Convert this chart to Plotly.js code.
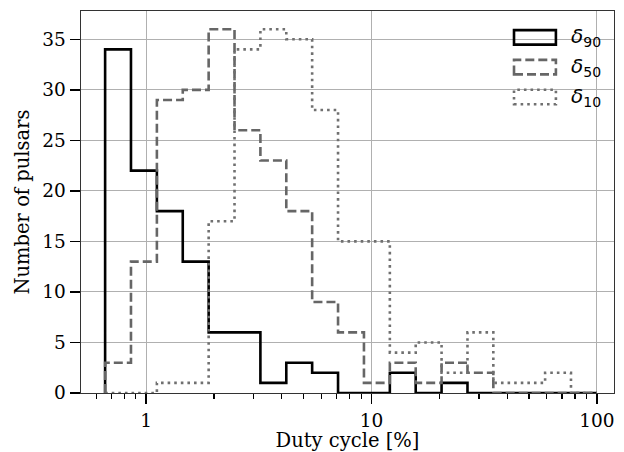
<!DOCTYPE html>
<html>
<head>
<meta charset="utf-8">
<script src="https://cdn.plot.ly/plotly-3.0.1.min.js"></script>
<style>html,body{margin:0;padding:0;background:#fff;}#chart{width:624px;height:452px;}</style>
</head>
<body>
<div id="chart"></div>
<script>
// Logarithmic bin edges (duty cycle, %)
const binEdges = [0.6577, 0.8565, 1.1161, 1.4538, 1.894, 2.467, 3.214, 4.187, 5.453, 7.104,
                  9.257, 12.06, 15.71, 20.46, 26.66, 34.72, 45.24, 58.93, 76.76, 100.0];
// Counts per bin
const delta90 = [34, 22, 18, 13, 6, 6, 1, 3, 2, 0, 0, 2, 0, 1, 0, 0, 0, 0, 0];
const delta50 = [3, 13, 29, 30, 36, 26, 23, 18, 9, 6, 1, 3, 1, 3, 2, 0, 0, 0, 0];
const delta10 = [0, 0, 1, 1, 17, 34, 36, 35, 28, 15, 15, 4, 5, 2, 6, 1, 1, 2, 0];
const seriesNames = ['δ<sub>90</sub>', 'δ<sub>50</sub>', 'δ<sub>10</sub>'];
const xTickVals = [1, 10, 100];
const xTickText = ['1', '10', '100'];
const yTickVals = [0, 5, 10, 15, 20, 25, 30, 35];

function stepTrace(counts, line) {
  const x = [binEdges[0]];
  const y = [0];
  for (let i = 0; i < counts.length; i++) { x.push(binEdges[i]); y.push(counts[i]); }
  x.push(binEdges[binEdges.length - 1]); y.push(0);
  return {x: x, y: y, type: 'scatter', mode: 'lines', line: Object.assign({shape: 'hv'}, line),
          showlegend: false, hoverinfo: 'skip'};
}

const styles = [
  {color: '#000000', width: 2.6},
  {color: '#666666', width: 2.6, dash: '9px,4px'},
  {color: '#707070', width: 2.6, dash: '2.6px,4px'}
];
const data = [stepTrace(delta90, styles[0]), stepTrace(delta50, styles[1]), stepTrace(delta10, styles[2])];

const serif = 'DejaVu Serif';
const minorVals = [0.6,0.7,0.8,0.9,2,3,4,5,6,7,8,9,20,30,40,50,60,70,80,90];

// legend (drawn as outlined boxes like matplotlib step-hist patches)
const legY = [0.931, 0.853, 0.775];
const shapes = [];
const annotations = [];
for (let k = 0; k < 3; k++) {
  shapes.push({type: 'rect', xref: 'paper', yref: 'paper', x0: 0.8124, x1: 0.891,
               y0: legY[k] - 0.019, y1: legY[k] + 0.019,
               line: styles[k], fillcolor: 'rgba(0,0,0,0)'});
  annotations.push({xref: 'paper', yref: 'paper', x: 0.915, y: legY[k], xanchor: 'left', yanchor: 'middle',
                    showarrow: false, text: '<i>' + seriesNames[k].replace('<sub>', '</i><sub>'),
                    font: {family: 'DejaVu Sans', size: 20, color: '#000'}});
}

const layout = {
  width: 624, height: 452,
  margin: {l: 81, r: 10, t: 11, b: 59},
  paper_bgcolor: '#fff', plot_bgcolor: '#fff',
  showlegend: false,
  xaxis: {
    type: 'log', range: [-0.289, 2.076],
    tickmode: 'array', tickvals: xTickVals, ticktext: xTickText,
    ticks: 'outside', ticklen: 10, tickwidth: 1.6, tickcolor: '#000',
    showgrid: true, gridcolor: '#b0b0b0', gridwidth: 1,
    showline: true, linecolor: '#333', linewidth: 1.4, mirror: true,
    zeroline: false,
    minor: {tickmode: 'array', tickvals: minorVals, ticks: 'outside', ticklen: 5, tickwidth: 1.2, tickcolor: '#000', showgrid: false},
    tickfont: {family: serif, size: 18.5, color: '#000'},
    title: {text: 'Duty cycle [%]', font: {family: serif, size: 19.5, color: '#000'}, standoff: 7}
  },
  yaxis: {
    range: [0, 37.8],
    tickmode: 'array', tickvals: yTickVals,
    ticks: 'outside', ticklen: 10, tickwidth: 1.6, tickcolor: '#000',
    showgrid: true, gridcolor: '#b0b0b0', gridwidth: 1,
    showline: true, linecolor: '#333', linewidth: 1.4, mirror: true,
    zeroline: false,
    tickfont: {family: serif, size: 18.5, color: '#000'},
    title: {text: 'Number of pulsars', font: {family: serif, size: 19.5, color: '#000'}, standoff: 7}
  },
  shapes: shapes,
  annotations: annotations
};

Plotly.newPlot('chart', data, layout, {staticPlot: true, displayModeBar: false});
</script>
</body>
</html>
